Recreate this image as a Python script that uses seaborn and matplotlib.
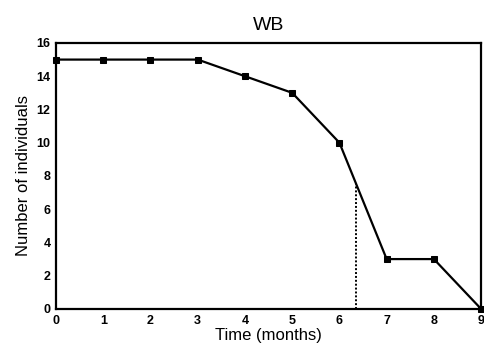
import matplotlib
matplotlib.use("Agg")
import matplotlib.pyplot as plt
import seaborn as sns
import pandas as pd

months = [0, 1, 2, 3, 4, 5, 6, 7, 8, 9]
individuals = [15, 15, 15, 15, 14, 13, 10, 3, 3, 0]
median_time = 6.36
median_count = 7.5

sns.set_style("white")
plt.rcParams["font.family"] = ["Liberation Sans", "DejaVu Sans"]
plt.rcParams["text.color"] = "black"
plt.rcParams["axes.labelcolor"] = "black"

df = pd.DataFrame({"Time (months)": months, "Number of individuals": individuals})

fig = plt.figure(figsize=(4.85, 3.58), dpi=100)
ax = fig.add_axes([0.1155, 0.137, 0.8765, 0.743])

sns.lineplot(data=df, x="Time (months)", y="Number of individuals", ax=ax,
             color="black", linewidth=1.6, marker="s", markersize=5,
             markeredgecolor="black", clip_on=False, zorder=3)

ax.vlines(median_time, 0, median_count, colors="black", linestyles=(0, (1, 1)),
          linewidth=1.4)

ax.set_xlim(0, 9)
ax.set_ylim(0, 16)
ax.set_xticks(months)
ax.set_yticks(range(0, 17, 2))
for lbl in ax.get_xticklabels() + ax.get_yticklabels():
    lbl.set_fontweight("bold")
ax.tick_params(axis="both", direction="out", length=3, width=1.2, pad=1,
               labelsize=9, colors="black")
for s in ax.spines.values():
    s.set_visible(True)
    s.set_color("black")
    s.set_linewidth(1.6)

ax.set_xlabel("Time (months)", fontsize=12, labelpad=1, color="black")
ax.set_ylabel("Number of individuals", fontsize=12, labelpad=4, color="black")
ax.set_title("WB", fontsize=14, pad=9, color="black")

fig.savefig("out.png", dpi=100)
